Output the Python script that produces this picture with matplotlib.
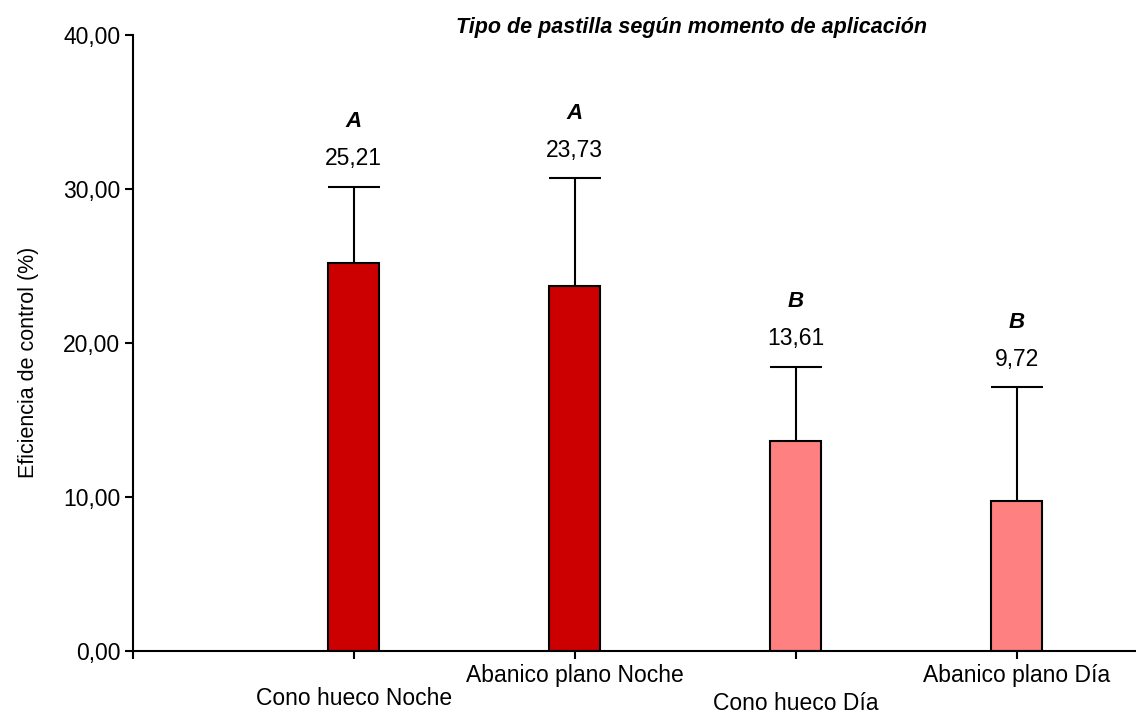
import matplotlib
matplotlib.use("Agg")
import matplotlib.pyplot as plt

plt.rcParams['font.family'] = ['Liberation Sans', 'DejaVu Sans']

# data
categories = ["Cono hueco Noche", "Abanico plano Noche", "Cono hueco Día", "Abanico plano Día"]
means = [25.21, 23.73, 13.61, 9.72]
err_up = [4.94, 6.96, 4.85, 7.40]
letters = ["A", "A", "B", "B"]
colors = ["#CC0000", "#CC0000", "#FF8080", "#FF8080"]
yticks = [0, 10, 20, 30, 40]

x = [1, 2, 3, 4]
label_drop = [34, 18, 37.5, 18]   # staggered category labels (points below axis)

fig = plt.figure(figsize=(11.36, 7.13), dpi=100)
ax = fig.add_axes([0.117, 0.087, 0.883, 0.864])

ax.bar(x, means, width=0.23, color=colors, edgecolor="black", linewidth=1.5, zorder=2)
eb = ax.errorbar(x, means, yerr=[[0] * 4, err_up], fmt="none", ecolor="black",
                 elinewidth=1.5, capsize=18.5, capthick=1.5, zorder=3)
# only the upper cap is drawn in the original
eb[1][0].set_visible(False)

for xi, m, e, let in zip(x, means, err_up, letters):
    top = m + e
    ax.annotate(f"{m:.2f}".replace(".", ","), xy=(xi, top), xytext=(0, 20),
                textcoords="offset points", ha="center", va="center", fontsize=16.5)
    ax.annotate(let, xy=(xi, top), xytext=(0, 47), textcoords="offset points",
                ha="center", va="center", fontsize=16, fontweight="bold", style="italic")

ax.set_xlim(0, 4.54)
ax.set_ylim(0, 40)
ax.set_yticks(yticks)
ax.set_yticklabels([f"{v:.2f}".replace(".", ",") for v in yticks], fontsize=16.5)
ax.set_xticks(x)
ax.set_xticklabels([])
ax.set_xticks([0], minor=True)
ax.tick_params(axis="both", which="both", length=6, width=1.5, direction="out", pad=3)

for xi, cat, d in zip(x, categories, label_drop):
    ax.annotate(cat, xy=(xi, 0), xycoords=("data", "axes fraction"), xytext=(0, -d),
                textcoords="offset points", ha="center", va="center", fontsize=16.5,
                annotation_clip=False)

for s in ["top", "right"]:
    ax.spines[s].set_visible(False)
ax.spines["left"].set_linewidth(1.5)
ax.spines["bottom"].set_linewidth(1.5)

ax.set_ylabel("Eficiencia de control (%)", fontsize=15.5)
ax.yaxis.set_label_coords(-0.094, 0.469)

fig.text(0.609, 0.962, "Tipo de pastilla según momento de aplicación", ha="center", va="center",
         fontsize=15.5, fontweight="bold", style="italic")

fig.savefig("out.png", dpi=100)
